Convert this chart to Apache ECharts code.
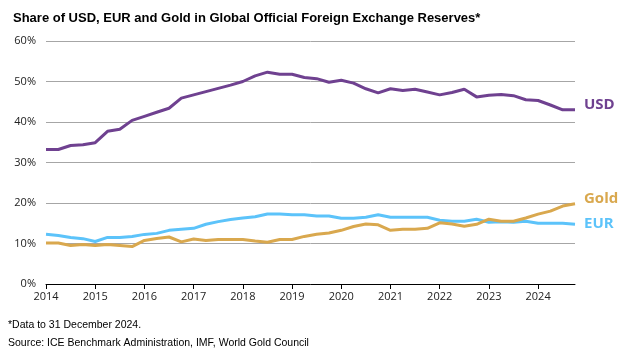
<!DOCTYPE html>
<html><head><meta charset="utf-8">
<script src="https://cdn.jsdelivr.net/npm/echarts@6/dist/echarts.min.js"></script>
<style>html,body{margin:0;padding:0;background:#fff}#c{width:631px;height:362px}</style>
</head><body><div id="c"></div>
<script>
const categories = (function(){const a=[];for(let y=2014;y<=2024;y++){for(let q=1;q<=4;q++)a.push(y+' Q'+q);}return a;})();
const yearTicks = ['2014','2015','2016','2017','2018','2019','2020','2021','2022','2023','2024'];
const usd = [33.2,33.2,34.2,34.4,34.9,37.7,38.2,40.4,41.4,42.4,43.4,45.9,46.7,47.5,48.3,49.1,50.0,51.4,52.3,51.8,51.8,51.0,50.7,49.8,50.3,49.6,48.2,47.2,48.2,47.8,48.1,47.4,46.7,47.3,48.1,46.2,46.6,46.8,46.5,45.5,45.3,44.2,43.0,43.0];
const eur = [12.3,12.0,11.5,11.2,10.5,11.5,11.5,11.75,12.25,12.5,13.25,13.5,13.75,14.75,15.4,15.9,16.3,16.6,17.3,17.3,17.1,17.1,16.8,16.8,16.25,16.25,16.5,17.1,16.5,16.5,16.5,16.5,15.75,15.5,15.5,16.0,15.25,15.4,15.25,15.5,15.0,15.0,15.0,14.75];
const gold = [10.1,10.1,9.5,9.75,9.5,9.75,9.5,9.25,10.75,11.25,11.6,10.4,11.1,10.75,11.0,11.0,11.0,10.6,10.3,11.0,11.0,11.75,12.3,12.6,13.25,14.2,14.8,14.6,13.25,13.5,13.5,13.75,15.1,14.8,14.25,14.75,16.0,15.5,15.5,16.3,17.25,18.0,19.25,19.8];
const seriesNames = ['USD','EUR','Gold'];
const colors = {USD:'#6F4190', EUR:'#5CC3FA', Gold:'#D9A84E'};

const chart = echarts.init(document.getElementById('c'), null, {renderer:'canvas'});
function mk(name, data, offY){
  return {
    name:name, type:'line', data:data, symbol:'none', smooth:false,
    lineStyle:{width:3, color:colors[name]}, itemStyle:{color:colors[name]},
    endLabel:{show:true, formatter:name, color:colors[name], fontFamily:'Open Sans',
      fontWeight:'bold', fontSize:15, distance:9, offset:[0,offY]},
    emphasis:{disabled:true}, animation:false
  };
}
chart.setOption({
  animation:false,
  title:{text:'Share of USD, EUR and Gold in Global Official Foreign Exchange Reserves*',
    left:8, top:7, textStyle:{fontFamily:'Liberation Sans', fontWeight:'bold', fontSize:13, color:'#000'}},
  grid:{left:46, right:56, top:41, bottom:78},
  xAxis:{type:'category', data:categories, boundaryGap:false,
    axisLine:{lineStyle:{color:'#000', width:1}},
    axisTick:{interval:function(i){return i%4===0;}, length:5, lineStyle:{color:'#000'}},
    axisLabel:{interval:function(i){return i%4===0;}, formatter:function(v,i){return yearTicks[i/4];},
      fontFamily:'Open Sans', fontSize:11, color:'#222', margin:7},
    splitLine:{show:false}},
  yAxis:{type:'value', min:0, max:60, interval:10,
    axisLabel:{formatter:'{value}%', fontFamily:'Open Sans', fontSize:11, color:'#222', margin:10},
    axisLine:{show:false}, axisTick:{show:false},
    splitLine:{lineStyle:{color:'#A6A6A6', width:1}}},
  series:[mk('USD',usd,-5), mk('EUR',eur,-1), mk('Gold',gold,-5)],
  graphic:[
    {type:'text', left:8, top:320, style:{text:'*Data to 31 December 2024.', font:'10.5px "Liberation Sans"', fill:'#000'}},
    {type:'text', left:8, top:338, style:{text:'Source: ICE Benchmark Administration, IMF, World Gold Council', font:'10.5px "Liberation Sans"', fill:'#000'}}
  ]
});
</script></body></html>
